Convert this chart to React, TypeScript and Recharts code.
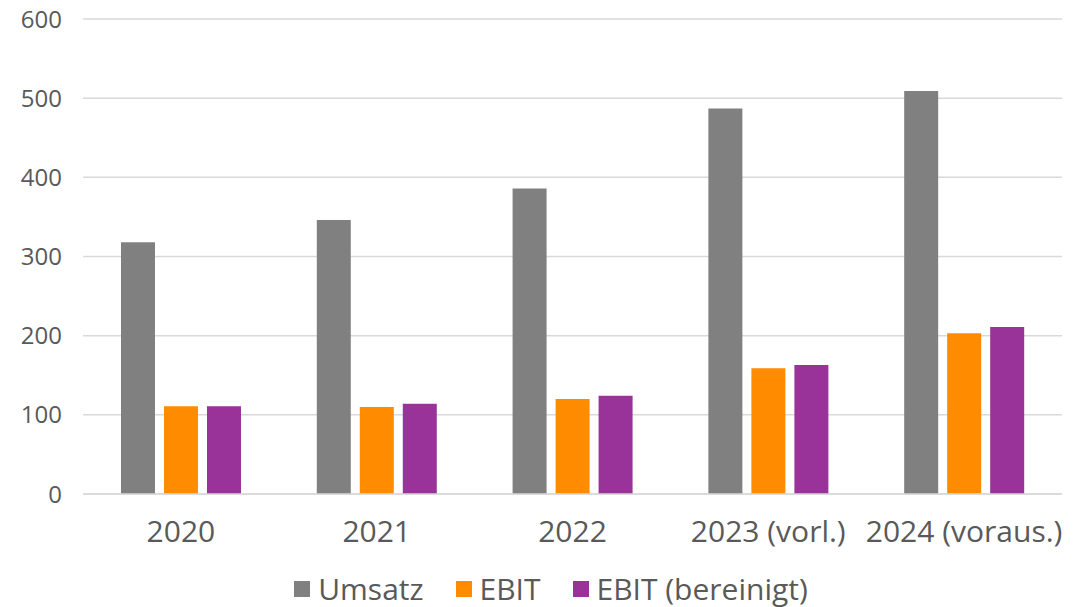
import { BarChart, Bar, XAxis, YAxis, CartesianGrid, Legend } from "recharts";

const categories = ["2020", "2021", "2022", "2023 (vorl.)", "2024 (voraus.)"];
const umsatz = [318, 346, 386, 487, 509];
const ebit = [111, 110, 120, 159, 203];
const ebitBereinigt = [111, 114, 124, 163, 211];
const yTicks = [0, 100, 200, 300, 400, 500, 600];

const FONT = "'Open Sans', sans-serif";
const TEXT_COLOR = "#595959";
const GRID_COLOR = "#d9d9d9";

const SERIES = [
  { key: "umsatz", name: "Umsatz", color: "#808080" },
  { key: "ebit", name: "EBIT", color: "#ff8c00" },
  { key: "ebitBereinigt", name: "EBIT (bereinigt)", color: "#993399" },
];

const data = categories.map((c, i) => ({
  year: c,
  umsatz: umsatz[i],
  ebit: ebit[i],
  ebitBereinigt: ebitBereinigt[i],
}));

function LegendContent() {
  return (
    <div
      style={{
        height: 53,
        display: "flex",
        justifyContent: "center",
        alignItems: "flex-end",
        paddingBottom: 1,
        paddingLeft: 40,
        boxSizing: "border-box",
        fontFamily: FONT,
        fontSize: 30,
        color: TEXT_COLOR,
      }}
    >
      {SERIES.map((s) => (
        <div key={s.key} style={{ display: "flex", alignItems: "center", margin: "0 16px", lineHeight: "34px" }}>
          <span style={{ display: "inline-block", width: 16, height: 16, background: s.color, marginRight: 8 }} />
          <span>{s.name}</span>
        </div>
      ))}
    </div>
  );
}

export default function App() {
  return (
    <div style={{ position: "absolute", left: 0, top: 0, background: "#fff" }}>
      <BarChart
        width={1091}
        height={607}
        data={data}
        margin={{ top: 19, right: 29, left: 0, bottom: 0 }}
        barCategoryGap="19.4%"
        barGap={9}
      >
        <CartesianGrid vertical={false} stroke={GRID_COLOR} strokeWidth={1.5} />
        <XAxis
          dataKey="year"
          height={60}
          tickLine={false}
          tickSize={0}
          tickMargin={27}
          axisLine={{ stroke: GRID_COLOR, strokeWidth: 1.5 }}
          tick={{ fontSize: 30, fill: TEXT_COLOR, fontFamily: FONT }}
          interval={0}
        />
        <YAxis
          width={83}
          domain={[0, 600]}
          ticks={yTicks}
          axisLine={false}
          tickLine={false}
          tickSize={0}
          tickMargin={21}
          tick={{ fontSize: 24, fill: TEXT_COLOR, fontFamily: FONT }}
        />
        <Legend verticalAlign="bottom" height={53} content={<LegendContent />} />
        {SERIES.map((s) => (
          <Bar key={s.key} dataKey={s.key} name={s.name} fill={s.color} isAnimationActive={false} />
        ))}
      </BarChart>
    </div>
  );
}
